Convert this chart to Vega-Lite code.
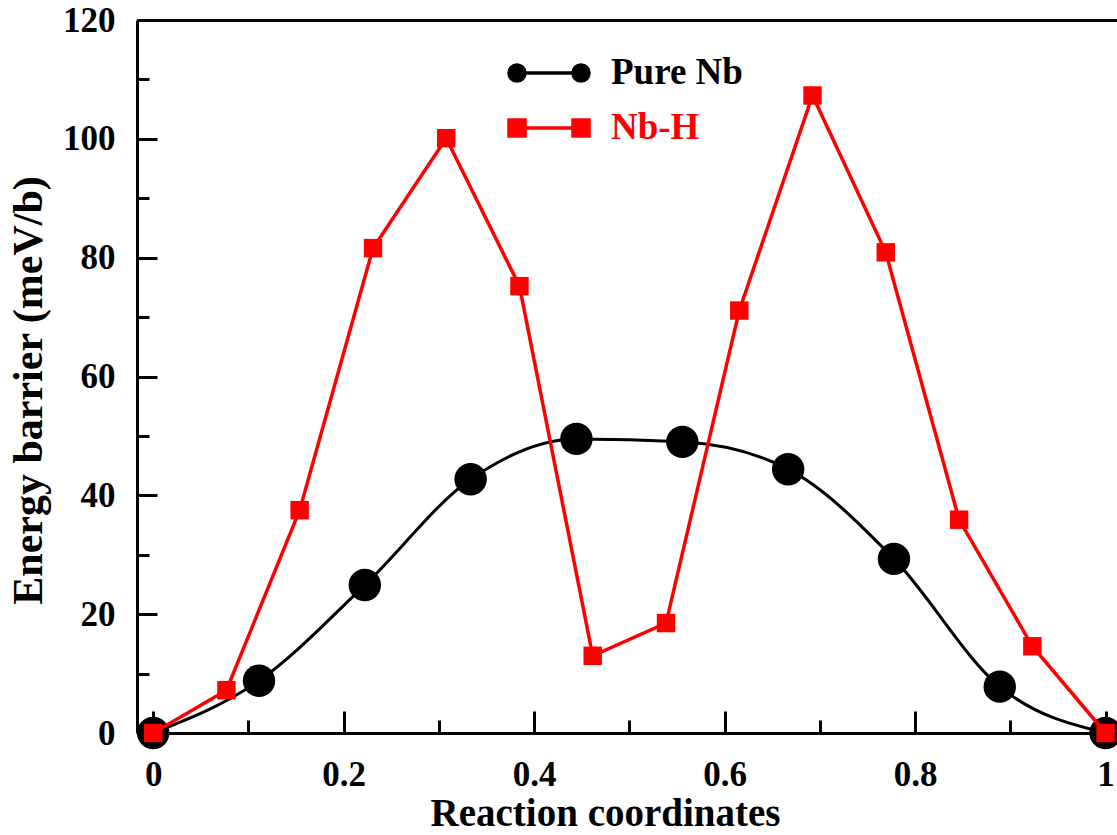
{
  "$schema": "https://vega.github.io/schema/vega-lite/v6.json",
  "width": 980,
  "height": 713,
  "autosize": {"type": "none"},
  "padding": {"left": 137, "top": 20, "right": 0, "bottom": 102},
  "background": "white",
  "config": {
    "view": {"stroke": null},
    "font": "Liberation Serif",
    "axis": {
      "labelFont": "Liberation Serif", "labelFontWeight": "bold", "labelFontSize": 35, "labelColor": "black",
      "titleFont": "Liberation Serif", "titleFontWeight": "bold", "titleFontSize": 39, "titleColor": "black",
      "domainColor": "black", "domainWidth": 3, "tickColor": "black", "tickWidth": 3, "grid": false
    }
  },
  "datasets": {
    "nb": [
      {"series": "Pure Nb", "x": 0.0, "y": 0.0},
      {"series": "Pure Nb", "x": 0.1111, "y": 8.8},
      {"series": "Pure Nb", "x": 0.2222, "y": 24.9},
      {"series": "Pure Nb", "x": 0.3333, "y": 42.7},
      {"series": "Pure Nb", "x": 0.4444, "y": 49.5},
      {"series": "Pure Nb", "x": 0.5556, "y": 49.0},
      {"series": "Pure Nb", "x": 0.6667, "y": 44.4},
      {"series": "Pure Nb", "x": 0.7778, "y": 29.3},
      {"series": "Pure Nb", "x": 0.8889, "y": 7.8},
      {"series": "Pure Nb", "x": 1.0, "y": 0.0}
    ],
    "nbh": [
      {"series": "Nb-H", "x": 0.0, "y": 0.0},
      {"series": "Nb-H", "x": 0.0769, "y": 7.2},
      {"series": "Nb-H", "x": 0.1538, "y": 37.5},
      {"series": "Nb-H", "x": 0.2308, "y": 81.6},
      {"series": "Nb-H", "x": 0.3077, "y": 100.1},
      {"series": "Nb-H", "x": 0.3846, "y": 75.2},
      {"series": "Nb-H", "x": 0.4615, "y": 13.0},
      {"series": "Nb-H", "x": 0.5385, "y": 18.5},
      {"series": "Nb-H", "x": 0.6154, "y": 71.1},
      {"series": "Nb-H", "x": 0.6923, "y": 107.3},
      {"series": "Nb-H", "x": 0.7692, "y": 80.9},
      {"series": "Nb-H", "x": 0.8462, "y": 35.9},
      {"series": "Nb-H", "x": 0.9231, "y": 14.6},
      {"series": "Nb-H", "x": 1.0, "y": 0.0}
    ]
  },
  "resolve": {"axis": {"x": "independent", "y": "independent"}},
  "layer": [
    {
      "data": {"name": "nb"},
      "mark": {"type": "line", "interpolate": "monotone", "strokeWidth": 3, "clip": true},
      "encoding": {
        "x": {"field": "x", "type": "quantitative", "scale": {"domain": [-0.017, 1.012], "nice": false, "zero": false},
              "axis": {"orient": "bottom", "values": [0, 0.2, 0.4, 0.6, 0.8, 1], "format": ".1~f", "ticks": false, "labelPadding": 24,
                       "title": "Reaction coordinates", "titlePadding": 2, "titleX": 468, "labelFlush": false}},
        "y": {"field": "y", "type": "quantitative", "scale": {"domain": [0, 120], "nice": false},
              "axis": {"orient": "left", "values": [0, 20, 40, 60, 80, 100, 120], "ticks": false, "labelPadding": 22,
                       "title": "Energy barrier (meV/b)", "titleFontSize": 42, "titlePadding": 12, "titleY": 370, "labelFlush": false}},
        "color": {"field": "series", "type": "nominal", "scale": {"domain": ["Pure Nb", "Nb-H"], "range": ["#000000", "#ff0000"]},
                  "legend": {
                    "orient": "none", "legendX": 370, "legendY": 35, "title": null,
                    "symbolSize": 6400, "clipHeight": 36, "rowPadding": 18, "labelOffset": 20,
                    "labelFont": "Liberation Serif", "labelFontWeight": "bold", "labelFontSize": 37,
                    "symbolStrokeWidth": 3.5, "symbolOpacity": 1,
                    "encode": {
                      "symbols": {"update": {
                        "shape": {"signal": "datum.value === 'Pure Nb' ? 'M-0.8,0L0.8,0M-1,0a0.2,0.2 0 1,0 0.4,0a0.2,0.2 0 1,0 -0.4,0ZM0.6,0a0.2,0.2 0 1,0 0.4,0a0.2,0.2 0 1,0 -0.4,0Z' : 'M-0.8,0L0.8,0M-1,-0.2H-0.6V0.2H-1ZM0.6,-0.2H1V0.2H0.6Z'"},
                        "fill": {"signal": "datum.value === 'Pure Nb' ? '#000000' : '#ff0000'"},
                        "stroke": {"signal": "datum.value === 'Pure Nb' ? '#000000' : '#ff0000'"},
                        "strokeWidth": {"value": 3.5},
                        "opacity": {"value": 1}
                      }},
                      "labels": {"update": {
                        "fill": {"signal": "datum.value === 'Pure Nb' ? '#000000' : '#ff0000'"}
                      }}
                    }
                  }}
      }
    },
    {
      "data": {"name": "nb"},
      "mark": {"type": "point", "shape": "circle", "filled": true, "size": 1050, "opacity": 1},
      "encoding": {
        "x": {"field": "x", "type": "quantitative",
              "axis": {"orient": "bottom", "values": [0, 0.2, 0.4, 0.6, 0.8, 1], "tickSize": -22, "labels": false, "domain": false, "title": null}},
        "y": {"field": "y", "type": "quantitative",
              "axis": {"orient": "left", "values": [0, 20, 40, 60, 80, 100, 120], "tickSize": -20, "labels": false, "domain": false, "title": null}},
        "color": {"field": "series", "type": "nominal"}
      }
    },
    {
      "data": {"name": "nbh"},
      "mark": {"type": "line", "strokeWidth": 3.5},
      "encoding": {
        "x": {"field": "x", "type": "quantitative",
              "axis": {"orient": "bottom", "values": [0.1, 0.3, 0.5, 0.7, 0.9], "tickSize": -13, "labels": false, "domain": false, "title": null}},
        "y": {"field": "y", "type": "quantitative",
              "axis": {"orient": "left", "values": [10, 30, 50, 70, 90, 110], "tickSize": -12, "labels": false, "domain": false, "title": null}},
        "color": {"field": "series", "type": "nominal"}
      }
    },
    {
      "data": {"name": "nbh"},
      "mark": {"type": "point", "shape": "square", "filled": true, "size": 340, "opacity": 1},
      "encoding": {
        "x": {"field": "x", "type": "quantitative",
              "axis": {"orient": "top", "ticks": false, "labels": false, "domain": true, "title": null}},
        "y": {"field": "y", "type": "quantitative", "axis": null},
        "color": {"field": "series", "type": "nominal"}
      }
    }
  ]
}
